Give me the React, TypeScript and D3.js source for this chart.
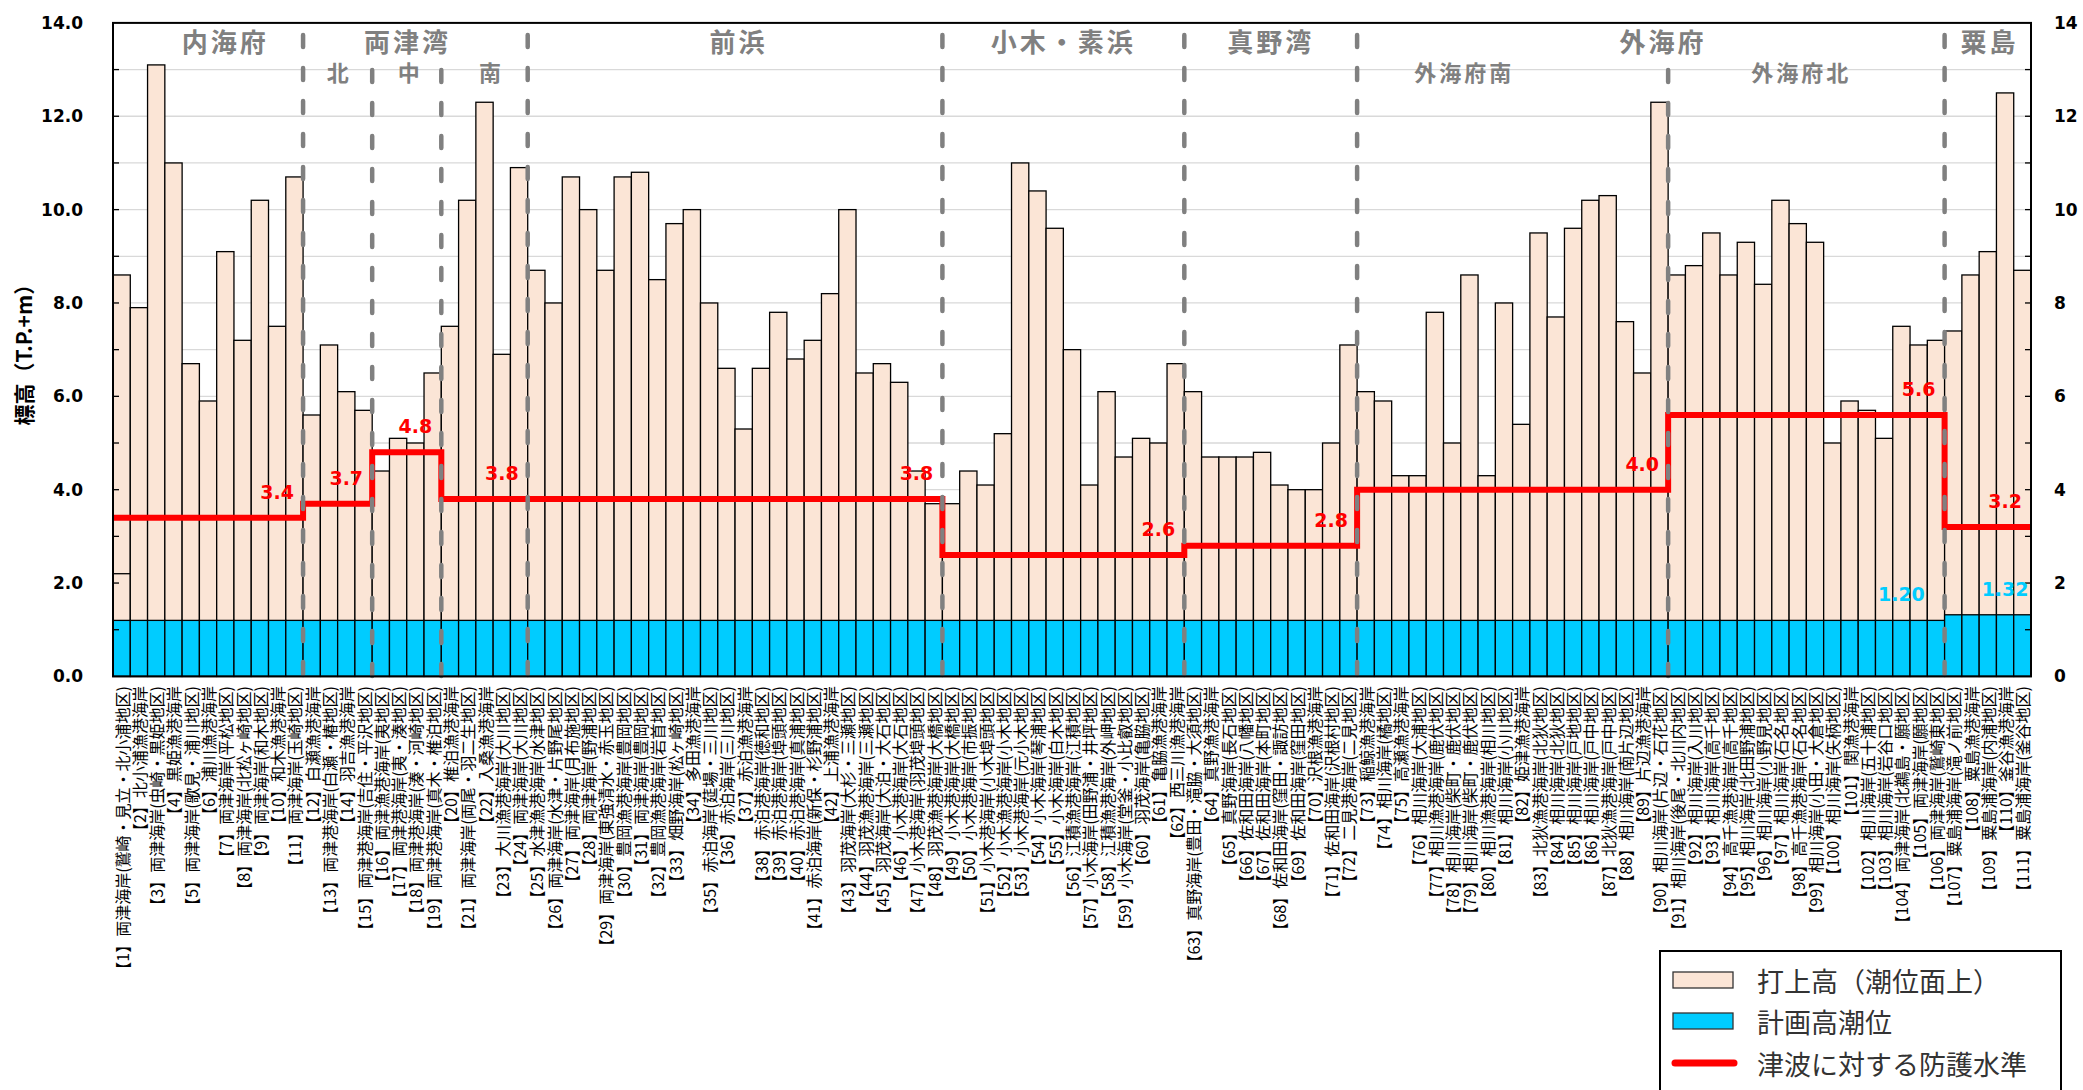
import React from 'react';
import * as d3 from 'd3';

// ---------------- DATA ----------------
const siteLabels: string[] = [
  '【1】両津海岸(鷲崎・見立・北小浦地区)', '【2】北小浦漁港海岸', '【3】両津海岸(虫崎・黒姫地区)', '【4】黒姫漁港海岸',
  '【5】両津海岸(歌見・浦川地区)', '【6】浦川漁港海岸', '【7】両津海岸(平松地区)', '【8】両津海岸(北松ヶ崎地区)',
  '【9】両津海岸(和木地区)', '【10】和木漁港海岸', '【11】両津海岸(玉崎地区)', '【12】白瀬漁港海岸',
  '【13】両津港海岸(白瀬・椿地区)', '【14】羽吉漁港海岸', '【15】両津港海岸(吉住・平沢地区)', '【16】両津漁港海岸(夷地区)',
  '【17】両津港海岸(夷・湊地区)', '【18】両津港海岸(湊・河崎地区)', '【19】両津港海岸(真木・椎泊地区)', '【20】椎泊漁港海岸',
  '【21】両津海岸(両尾・羽二生地区)', '【22】入桑漁港海岸', '【23】大川漁港海岸(大川地区)', '【24】両津海岸(大川地区)',
  '【25】水津漁港海岸(水津地区)', '【26】両津海岸(水津・片野尾地区)', '【27】両津海岸(月布施地区)', '【28】両津海岸(野浦地区)',
  '【29】両津海岸(東強清水・赤玉地区)', '【30】豊岡漁港海岸(豊岡地区)', '【31】両津海岸(豊岡地区)', '【32】豊岡漁港海岸(岩首地区)',
  '【33】畑野海岸(松ヶ崎地区)', '【34】多田漁港海岸', '【35】赤泊海岸(莚場・三川地区)', '【36】赤泊海岸(三川地区)',
  '【37】赤泊漁港海岸', '【38】赤泊港海岸(徳和地区)', '【39】赤泊港海岸(埠頭地区)', '【40】赤泊港海岸(真浦地区)',
  '【41】赤泊海岸(新保・杉野浦地区)', '【42】上浦漁港海岸', '【43】羽茂海岸(大杉・三瀬地区)', '【44】羽茂漁港海岸(三瀬地区)',
  '【45】羽茂海岸(大泊・大石地区)', '【46】小木港海岸(大石地区)', '【47】小木港海岸(羽茂埠頭地区)', '【48】羽茂漁港海岸(大橋地区)',
  '【49】小木港海岸(大橋地区)', '【50】小木港海岸(市振地区)', '【51】小木港海岸(小木埠頭地区)', '【52】小木漁港海岸(小木地区)',
  '【53】小木港海岸(元小木地区)', '【54】小木海岸(琴浦地区)', '【55】小木海岸(白木地区)', '【56】江積漁港海岸(江積地区)',
  '【57】小木海岸(田野浦・井坪地区)', '【58】江積漁港海岸(外岬地区)', '【59】小木海岸(堂釜・小比叡地区)', '【60】羽茂海岸(亀脇地区)',
  '【61】亀脇漁港海岸', '【62】西三川漁港海岸', '【63】真野海岸(豊田・滝脇・大須地区)', '【64】真野漁港海岸',
  '【65】真野海岸(長石地区)', '【66】佐和田海岸(八幡地区)', '【67】佐和田海岸(本町地区)', '【68】佐和田海岸(窪田・諏訪地区)',
  '【69】佐和田海岸(窪田地区)', '【70】沢根漁港海岸', '【71】佐和田海岸(沢根村地区)', '【72】二見港海岸(二見地区)',
  '【73】稲鯨漁港海岸', '【74】相川海岸(橘地区)', '【75】高瀬漁港海岸', '【76】相川海岸(大浦地区)',
  '【77】相川漁港海岸(鹿伏地区)', '【78】相川海岸(柴町・鹿伏地区)', '【79】相川海岸(柴町・鹿伏地区)', '【80】相川漁港海岸(相川地区)',
  '【81】相川海岸(小川地区)', '【82】姫津漁港海岸', '【83】北狄漁港海岸(北狄地区)', '【84】相川海岸(北狄地区)',
  '【85】相川海岸(戸地地区)', '【86】相川海岸(戸中地区)', '【87】北狄漁港海岸(戸中地区)', '【88】相川海岸(南片辺地区)',
  '【89】片辺漁港海岸', '【90】相川海岸(片辺・石花地区)', '【91】相川海岸(後尾・北川内地区)', '【92】相川海岸(入川地区)',
  '【93】相川海岸(高千地区)', '【94】高千漁港海岸(高千地区)', '【95】相川海岸(北田野浦地区)', '【96】相川海岸(小野見地区)',
  '【97】相川海岸(石名地区)', '【98】高千漁港海岸(石名地区)', '【99】相川海岸(小田・大倉地区)', '【100】相川海岸(矢柄地区)',
  '【101】関漁港海岸', '【102】相川海岸(五十浦地区)', '【103】相川海岸(岩谷口地区)', '【104】両津海岸(北鵜島・願地区)',
  '【105】両津海岸(願地区)', '【106】両津海岸(鷲崎東地区)', '【107】粟島浦海岸(滝ノ前地区)', '【108】粟島漁港海岸',
  '【109】粟島浦海岸(内浦地区)', '【110】釜谷漁港海岸', '【111】粟島浦海岸(釜谷地区)',
];

// 打上高（潮位面上） — top of each bar (T.P.+m)
const runupHeights: number[] = [
  8.6, 7.9, 13.1, 11.0, 6.7, 5.9, 9.1, 7.2, 10.2, 7.5,
  10.7, 5.6, 7.1, 6.1, 5.7, 4.4, 5.1, 5.0, 6.5, 7.5,
  10.2, 12.3, 6.9, 10.9, 8.7, 8.0, 10.7, 10.0, 8.7, 10.7,
  10.8, 8.5, 9.7, 10.0, 8.0, 6.6, 5.3, 6.6, 7.8, 6.8,
  7.2, 8.2, 10.0, 6.5, 6.7, 6.3, 4.4, 3.7, 3.7, 4.4,
  4.1, 5.2, 11.0, 10.4, 9.6, 7.0, 4.1, 6.1, 4.7, 5.1,
  5.0, 6.7, 6.1, 4.7, 4.7, 4.7, 4.8, 4.1, 4.0, 4.0,
  5.0, 7.1, 6.1, 5.9, 4.3, 4.3, 7.8, 5.0, 8.6, 4.3,
  8.0, 5.4, 9.5, 7.7, 9.6, 10.2, 10.3, 7.6, 6.5, 12.3,
  8.6, 8.8, 9.5, 8.6, 9.3, 8.4, 10.2, 9.7, 9.3, 5.0,
  5.9, 5.7, 5.1, 7.5, 7.1, 7.2, 7.4, 8.6, 9.1, 12.5, 8.7,
];

// inner division line inside bar [1]
const innerLineBar: number[] = [1];
const innerLineValue: number[] = [2.2];

// 計画高潮位 — by site range
const tideFrom: number[] = [1, 107];
const tideTo: number[] = [106, 111];
const tideValues: number[] = [1.20, 1.32];
const tideLabelBar: number[] = [104, 110];
const tideLabelText: string[] = ['1.20', '1.32'];

// 津波に対する防護水準 — by site range
const levelFrom: number[] = [1, 12, 16, 20, 49, 63, 73, 91, 107];
const levelTo: number[] = [11, 15, 19, 48, 62, 72, 90, 106, 111];
const levelValues: number[] = [3.4, 3.7, 4.8, 3.8, 2.6, 2.8, 4.0, 5.6, 3.2];
const levelLabelValues: number[] = [3.4, 3.7, 4.8, 3.8, 3.8, 2.6, 2.8, 4.0, 5.6, 3.2];
const levelLabelBar: number[] = [10, 14, 18, 23, 47, 61, 71, 89, 105, 110];

// Region dividers (after site number)
const majorDividers: number[] = [11, 24, 48, 62, 72, 106];
const minorDividers: number[] = [15, 19, 90];

// Region headers (center given in site-position units)
const regionNames: string[] = ['内海府', '両津湾', '前浜', '小木・素浜', '真野湾', '外海府', '粟島'];
const regionCenters: number[] = [6.5, 17.05, 36.2, 55, 67, 89.7, 108.6];
const subRegionNames: string[] = ['北', '中', '南', '外海府南', '外海府北'];
const subRegionCenters: number[] = [13.1, 17.2, 21.9, 78.2, 97.7];

const yTicksMajor: number[] = [0, 2, 4, 6, 8, 10, 12, 14];
const yTicksMinor: number[] = [1, 2, 3, 4, 5, 6, 7, 8, 9, 10, 11, 12, 13];

const legendLabels: string[] = ['打上高（潮位面上）', '計画高潮位', '津波に対する防護水準'];

// ---------------- CHART ----------------
const W = 2083;
const H = 1090;
const PL = 113, PR = 2031, PT = 22.9, PB = 676.4;

const PINK = '#FBE5D6';
const BLUE = '#00CCFF';
const RED = '#FF0000';
const GRAY = '#808080';
const JP = "'Noto Sans CJK JP', 'Noto Sans', sans-serif";
const NUM = "'DejaVu Sans', 'Liberation Sans', sans-serif";

export default function App() {
  const idx = d3.range(siteLabels.length);
  const x = d3.scaleBand<number>().domain(idx).range([PL, PR]).padding(0);
  const bw = x.bandwidth();
  const y = d3.scaleLinear().domain([0, 14]).range([PB, PT]);
  const pos = (p: number) => PL + p * bw; // position in site units
  const xc = (site: number) => (x(site - 1) as number) + bw / 2;

  const tideOf = (site: number) => {
    for (let k = 0; k < tideFrom.length; k++) if (site >= tideFrom[k] && site <= tideTo[k]) return tideValues[k];
    return 0;
  };

  const stepPts: [number, number][] = [];
  levelValues.forEach((v, k) => {
    stepPts.push([x(levelFrom[k] - 1) as number, y(v)]);
    stepPts.push([(x(levelTo[k] - 1) as number) + bw, y(v)]);
  });
  const stepLine = d3.line()(stepPts) as string;

  return (
    <svg width={W} height={H} style={{ position: 'absolute', left: 0, top: 0, background: '#fff' }}
      xmlns="http://www.w3.org/2000/svg">
      <rect x={0} y={0} width={W} height={H} fill="#fff" />
      {/* gridlines */}
      {yTicksMinor.map((t) => (
        <line key={'g' + t} x1={PL} x2={PR} y1={y(t)} y2={y(t)} stroke="#d9d9d9" strokeWidth={1.3} />
      ))}
      {/* run-up bars */}
      {runupHeights.map((v, i) => (
        <rect key={'b' + i} x={x(i)} y={y(v)} width={bw} height={PB - y(v)} fill={PINK} stroke="#000" strokeWidth={1.3} />
      ))}
      {/* tide bars */}
      {idx.map((i) => {
        const t = tideOf(i + 1);
        return <rect key={'t' + i} x={x(i)} y={y(t)} width={bw} height={PB - y(t)} fill={BLUE} stroke="#000" strokeWidth={1.3} />;
      })}
      {innerLineBar.map((s, k) => (
        <line key={'il' + k} x1={x(s - 1)} x2={(x(s - 1) as number) + bw} y1={y(innerLineValue[k])} y2={y(innerLineValue[k])} stroke="#000" strokeWidth={1.3} />
      ))}
      {/* minor ticks */}
      {yTicksMinor.map((t) => (
        <g key={'tk' + t}>
          <line x1={PL} x2={PL + 6} y1={y(t)} y2={y(t)} stroke="#000" strokeWidth={1.3} />
          <line x1={PR - 6} x2={PR} y1={y(t)} y2={y(t)} stroke="#000" strokeWidth={1.3} />
        </g>
      ))}
      {/* protection level step line */}
      <path d={stepLine} fill="none" stroke={RED} strokeWidth={6} strokeLinejoin="miter" />
      {/* dividers */}
      {majorDividers.map((s) => (
        <line key={'md' + s} x1={pos(s)} x2={pos(s)} y1={35} y2={680} stroke={GRAY} strokeWidth={4.5}
          strokeDasharray="12 21" strokeLinecap="round" />
      ))}
      {minorDividers.map((s) => (
        <line key={'nd' + s} x1={pos(s)} x2={pos(s)} y1={70} y2={680} stroke={GRAY} strokeWidth={4.5}
          strokeDasharray="12 21" strokeLinecap="round" />
      ))}
      {/* plot border */}
      <rect x={PL} y={PT} width={PR - PL} height={PB - PT} fill="none" stroke="#000" strokeWidth={2} />
      {/* level labels */}
      {levelLabelValues.map((v, k) => (
        <text key={'ll' + k} x={xc(levelLabelBar[k])} y={y(v) - 26} fill={RED} fontFamily={NUM} fontWeight="bold"
          fontSize={19} textAnchor="middle" dominantBaseline="central">{v.toFixed(1)}</text>
      ))}
      {tideLabelText.map((t, k) => (
        <text key={'tl' + k} x={xc(tideLabelBar[k])} y={y(tideValues[k]) - 26} fill={BLUE} fontFamily={NUM} fontWeight="bold"
          fontSize={19} textAnchor="middle" dominantBaseline="central">{t}</text>
      ))}
      {/* region headers */}
      {regionNames.map((n, k) => (
        <text key={'rh' + k} x={pos(regionCenters[k])} y={40} fill={GRAY} fontFamily={JP} fontWeight="bold" fontSize={26}
          letterSpacing={3} textAnchor="middle" dominantBaseline="central">{n}</text>
      ))}
      {subRegionNames.map((n, k) => (
        <text key={'sh' + k} x={pos(subRegionCenters[k])} y={71} fill={GRAY} fontFamily={JP} fontWeight="bold" fontSize={22}
          letterSpacing={3} textAnchor="middle" dominantBaseline="central">{n}</text>
      ))}
      {/* y axis labels */}
      {yTicksMajor.map((t) => (
        <g key={'yl' + t}>
          <text x={83} y={y(t)} textAnchor="end" dominantBaseline="central" fontFamily={NUM} fontWeight="bold" fontSize={17} fill="#000">{t.toFixed(1)}</text>
          <text x={2054} y={y(t)} textAnchor="start" dominantBaseline="central" fontFamily={NUM} fontWeight="bold" fontSize={17} fill="#000">{t}</text>
        </g>
      ))}
      <text transform={`translate(23, ${(PT + PB) / 2}) rotate(-90)`} textAnchor="middle" dominantBaseline="central"
        fontFamily={JP} fontWeight="bold" fontSize={21} fill="#000">標高（T.P.+m）</text>
      {/* x labels */}
      {siteLabels.map((s, i) => (
        <text key={'xl' + i} transform={`translate(${xc(i + 1)}, 686) rotate(-90)`} textAnchor="end" dominantBaseline="central"
          fontFamily={JP} fontSize={16} fill="#000">{s}</text>
      ))}
      {/* legend */}
      <g>
        <rect x={1660} y={951} width={401} height={160} fill="#fff" stroke="#000" strokeWidth={2} />
        <rect x={1673} y={972} width={60} height={16} fill={PINK} stroke="#333" strokeWidth={1.3} />
        <rect x={1673} y={1013} width={60} height={16} fill={BLUE} stroke="#333" strokeWidth={1.3} />
        <line x1={1675} x2={1734} y1={1063} y2={1063} stroke={RED} strokeWidth={7} strokeLinecap="round" />
        {legendLabels.map((l, k) => (
          <text key={'lg' + k} x={1757} y={[980, 1021, 1063][k]} dominantBaseline="central" fontFamily={JP} fontSize={27} fill="#333">{l}</text>
        ))}
      </g>
    </svg>
  );
}
